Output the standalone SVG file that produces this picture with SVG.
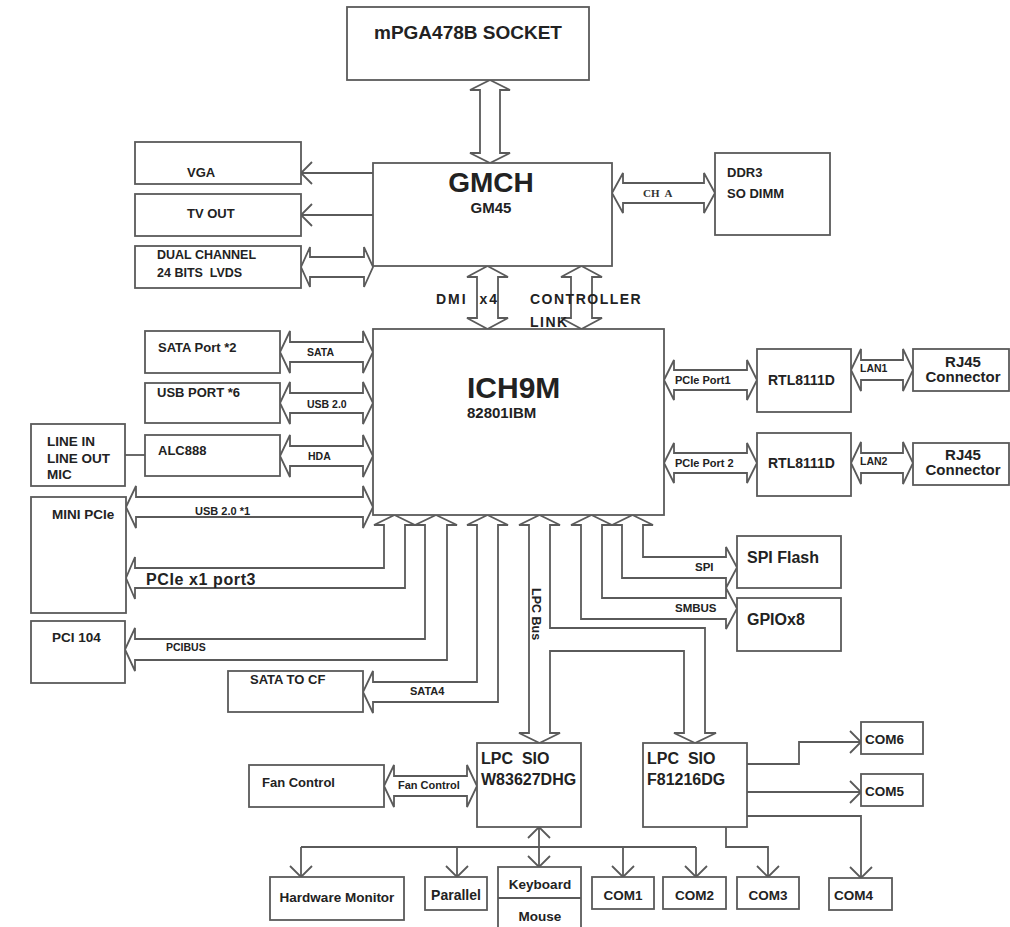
<svg xmlns="http://www.w3.org/2000/svg" width="1010" height="927" viewBox="0 0 1010 927">
<defs>
<style>
.b{fill:#fff;stroke:#5a5a5a;stroke-width:1.8}
.c{fill:none;stroke:#5a5a5a;stroke-width:1.8;stroke-linejoin:miter}
.t{font-family:"Liberation Sans",Arial,sans-serif;font-weight:bold;fill:#222}
.s{font-family:"Liberation Serif","Times New Roman",serif;font-weight:bold;fill:#333}
</style>
<marker id="v" viewBox="-12 -12 14 24" refX="0" refY="0" markerWidth="14" markerHeight="24" markerUnits="userSpaceOnUse" orient="auto-start-reverse">
<path d="M-11,-11 L0,0 L-11,11" fill="none" stroke="#5a5a5a" stroke-width="1.8"/>
</marker>
</defs>
<rect width="1010" height="927" fill="#fff"/>

<g id="connectors">
<polygon class="c" points="490,80 510,90 500,90 500,153 510,153 490,163 470,153 480,153 480,90 470,90"/>
<line class="c" x1="373" y1="173" x2="301" y2="173" marker-end="url(#v)"/>
<line class="c" x1="373" y1="215" x2="301" y2="215" marker-end="url(#v)"/>
<polygon class="c" points="301,267 310,247 310,257 364,257 364,247 373,267 364,287 364,277 310,277 310,287"/>
<polygon class="c" points="612,193 623,173 623,183 704,183 704,173 715,193 704,213 704,203 623,203 623,213"/>
<polygon class="c" points="487.5,266 508,277 498,277 498,318 508,318 487.5,329 467,318 477,318 477,277 467,277"/>
<polygon class="c" points="581.5,266 602,277 592,277 592,318 602,318 581.5,329 561,318 571,318 571,277 561,277"/>
<polygon class="c" points="280,352 290,331 290,342 363,342 363,331 373,352 363,373 363,362 290,362 290,373"/>
<polygon class="c" points="280,403 290,382 290,393 363,393 363,382 373,403 363,424 363,413 290,413 290,424"/>
<polygon class="c" points="280,456 290,435 290,446 363,446 363,435 373,456 363,477 363,466 290,466 290,477"/>
<line class="c" x1="125" y1="455" x2="145" y2="455"/>
<polygon class="c" points="126,507 136,486 136,497 363,497 363,486 373,507 363,528 363,517 136,517 136,528"/>
<polygon class="c" points="664,380 674,360 674,370 747,370 747,360 757,380 747,400 747,390 674,390 674,400"/>
<polygon class="c" points="664,463 674,443 674,453 747,453 747,443 757,463 747,483 747,473 674,473 674,483"/>
<polygon class="c" points="851,370 861,349 861,360 903,360 903,349 913,370 903,391 903,380 861,380 861,391"/>
<polygon class="c" points="851,463 861,442 861,453 903,453 903,442 913,463 903,484 903,473 861,473 861,484"/>
<polygon class="c" points="394.5,515 415,525 405,525 405,588 135,588 135,599 126,578 135,557 135,568 384,568 384,525 374,525"/>
<polygon class="c" points="436,515 457,525 447,525 447,660 135,660 135,671 125,649.5 135,628 135,639 425,639 425,525 415,525"/>
<polygon class="c" points="487.5,515 508,525 498,525 498,702 373,702 373,713 363,692 373,671 373,682 477,682 477,525 467,525"/>
<polygon class="c" points="539.5,515 560,525 550,525 550,628 705,628 705,733 716,733 695,743 674,733 684,733 684,651 550,651 550,733 560,733 539.5,743 519,733 529,733 529,525 519,525"/>
<polygon class="c" points="591.5,515 612,525 602,525 602,598 726,598 726,588 737,608.5 726,629 726,619 581,619 581,525 571,525"/>
<polygon class="c" points="632.5,515 653,525 643,525 643,557 726,557 726,547 737,567.5 726,588 726,578 622,578 622,525 612,525"/>
<polygon class="c" points="384,786 394,765 394,776 467,776 467,765 477,786 467,807 467,796 394,796 394,807"/>
<line class="c" x1="539" y1="827" x2="539" y2="867" marker-start="url(#v)" marker-end="url(#v)"/>
<line class="c" x1="301" y1="847" x2="696" y2="847"/>
<line class="c" x1="301" y1="847" x2="301" y2="877" marker-end="url(#v)"/>
<line class="c" x1="457" y1="847" x2="457" y2="877" marker-end="url(#v)"/>
<line class="c" x1="623" y1="847" x2="623" y2="877" marker-end="url(#v)"/>
<line class="c" x1="696" y1="847" x2="696" y2="877" marker-end="url(#v)"/>
<polyline class="c" points="747,764 799,764 799,742 861,742" marker-end="url(#v)"/>
<polyline class="c" points="747,792 861,792" marker-end="url(#v)"/>
<polyline class="c" points="747,816 861,816 861,878" marker-end="url(#v)"/>
<polyline class="c" points="726,827 726,847 768,847 768,877" marker-end="url(#v)"/>
</g>

<g id="labels">
<text class="s" x="643" y="197" font-size="11" xml:space="preserve">CH  A</text>
<text class="t" x="436" y="304" font-size="14" letter-spacing="2" xml:space="preserve">DMI  x4</text>
<text class="t" x="530" y="304" font-size="14" letter-spacing="1.5">CONTROLLER</text>
<text class="t" x="530" y="327" font-size="14" letter-spacing="1.5">LINK</text>
<text class="t" x="307" y="356" font-size="10.5">SATA</text>
<text class="t" x="307" y="407.5" font-size="10.5">USB 2.0</text>
<text class="t" x="308" y="459.5" font-size="10.5">HDA</text>
<text class="t" x="195" y="515" font-size="11">USB 2.0 *1</text>
<text class="t" x="146" y="585" font-size="16" letter-spacing="0.6">PCIe x1 port3</text>
<text class="t" x="166" y="651" font-size="10.5">PCIBUS</text>
<text class="t" x="410" y="695" font-size="11">SATA4</text>
<text class="t" font-size="12.5" transform="translate(532,588) rotate(90)">LPC Bus</text>
<text class="t" x="695" y="571" font-size="11.5">SPI</text>
<text class="t" x="675" y="612" font-size="11.5">SMBUS</text>
<text class="t" x="675" y="384" font-size="11">PCIe Port1</text>
<text class="t" x="675" y="467" font-size="11">PCIe Port 2</text>
<text class="t" x="860" y="372" font-size="10.5">LAN1</text>
<text class="t" x="860" y="465" font-size="10.5">LAN2</text>
<text class="t" x="398" y="789" font-size="11">Fan Control</text>
</g>

<g id="socket"><rect class="b" x="347" y="7" width="242" height="73"/><text class="t" x="468" y="39" font-size="19" text-anchor="middle">mPGA478B SOCKET</text></g>
<g id="gmch"><rect class="b" x="373" y="163" width="239" height="103"/><text class="t" x="491" y="192" font-size="28" text-anchor="middle">GMCH</text><text class="t" x="491" y="213" font-size="15" text-anchor="middle">GM45</text></g>
<g id="vga"><rect class="b" x="135" y="142" width="166" height="42"/><text class="t" x="187" y="177" font-size="13">VGA</text></g>
<g id="tvout"><rect class="b" x="135" y="194" width="166" height="42"/><text class="t" x="187" y="218" font-size="13">TV OUT</text></g>
<g id="lvds"><rect class="b" x="135" y="246" width="166" height="42"/><text class="t" x="157" y="259" font-size="12.5">DUAL CHANNEL</text><text class="t" x="157" y="276.5" font-size="12.5" xml:space="preserve">24 BITS  LVDS</text></g>
<g id="ddr3"><rect class="b" x="715" y="153" width="115" height="82"/><text class="t" x="727" y="177" font-size="13">DDR3</text><text class="t" x="727" y="198" font-size="13">SO DIMM</text></g>
<g id="ich9m"><rect class="b" x="373" y="329" width="291" height="186"/><text class="t" x="467" y="398" font-size="30">ICH9M</text><text class="t" x="467" y="418" font-size="15">82801IBM</text></g>
<g id="sata"><rect class="b" x="145" y="331" width="135" height="42"/><text class="t" x="158" y="351.5" font-size="13">SATA Port *2</text></g>
<g id="usb"><rect class="b" x="145" y="383" width="135" height="40"/><text class="t" x="157" y="396.5" font-size="13">USB PORT *6</text></g>
<g id="alc888"><rect class="b" x="145" y="435" width="135" height="41"/><text class="t" x="158" y="454.5" font-size="13">ALC888</text></g>
<g id="audio"><rect class="b" x="31" y="424" width="94" height="62"/><text class="t" x="47" y="446" font-size="13.5">LINE IN</text><text class="t" x="47" y="463" font-size="13.5">LINE OUT</text><text class="t" x="47" y="479" font-size="13.5">MIC</text></g>
<g id="minipcie"><rect class="b" x="31" y="497" width="95" height="116"/><text class="t" x="52" y="519" font-size="13.5">MINI PCIe</text></g>
<g id="pci104"><rect class="b" x="31" y="621" width="94" height="62"/><text class="t" x="52" y="642" font-size="13.5">PCI 104</text></g>
<g id="satacf"><rect class="b" x="228" y="671" width="135" height="41"/><text class="t" x="250" y="684" font-size="13">SATA TO CF</text></g>
<g id="spi"><rect class="b" x="737" y="536" width="104" height="52"/><text class="t" x="747" y="563" font-size="16">SPI Flash</text></g>
<g id="gpio"><rect class="b" x="737" y="598" width="104" height="53"/><text class="t" x="747" y="625" font-size="16">GPIOx8</text></g>
<g id="rtl1"><rect class="b" x="757" y="349" width="94" height="63"/><text class="t" x="768" y="385" font-size="14">RTL8111D</text></g>
<g id="rtl2"><rect class="b" x="757" y="433" width="94" height="63"/><text class="t" x="768" y="468" font-size="14">RTL8111D</text></g>
<g id="rj45a"><rect class="b" x="913" y="349" width="96" height="42"/><text class="t" x="963" y="366.5" font-size="15" text-anchor="middle">RJ45</text><text class="t" x="963" y="382" font-size="15" text-anchor="middle">Connector</text></g>
<g id="rj45b"><rect class="b" x="913" y="443" width="96" height="42"/><text class="t" x="963" y="459.5" font-size="15" text-anchor="middle">RJ45</text><text class="t" x="963" y="475" font-size="15" text-anchor="middle">Connector</text></g>
<g id="sio1"><rect class="b" x="477" y="743" width="104" height="84"/><text class="t" x="481" y="764" font-size="16" xml:space="preserve">LPC  SIO</text><text class="t" x="481" y="785" font-size="16">W83627DHG</text></g>
<g id="sio2"><rect class="b" x="643" y="743" width="104" height="84"/><text class="t" x="647" y="764" font-size="16" xml:space="preserve">LPC  SIO</text><text class="t" x="647" y="785" font-size="16">F81216DG</text></g>
<g id="fan"><rect class="b" x="249" y="765" width="135" height="42"/><text class="t" x="262" y="787" font-size="13">Fan Control</text></g>
<g id="hwmon"><rect class="b" x="270" y="877" width="134" height="43"/><text class="t" x="337" y="902" font-size="13.5" text-anchor="middle">Hardware Monitor</text></g>
<g id="parallel"><rect class="b" x="425" y="877" width="62" height="33"/><text class="t" x="456" y="900" font-size="14" text-anchor="middle">Parallel</text></g>
<g id="kbms"><rect class="b" x="498" y="867" width="83" height="70"/><line class="c" x1="498" y1="898" x2="581" y2="898"/><text class="t" x="540" y="889" font-size="13.5" text-anchor="middle">Keyboard</text><text class="t" x="540" y="921" font-size="13.5" text-anchor="middle">Mouse</text></g>
<g id="com1"><rect class="b" x="592" y="877" width="62" height="32"/><text class="t" x="623" y="900" font-size="13.5" text-anchor="middle">COM1</text></g>
<g id="com2"><rect class="b" x="663" y="877" width="63" height="32"/><text class="t" x="694.5" y="900" font-size="13.5" text-anchor="middle">COM2</text></g>
<g id="com3"><rect class="b" x="737" y="877" width="62" height="32"/><text class="t" x="768" y="900" font-size="13.5" text-anchor="middle">COM3</text></g>
<g id="com4"><rect class="b" x="829" y="878" width="63" height="32"/><text class="t" x="834" y="900" font-size="13.5">COM4</text></g>
<g id="com6"><rect class="b" x="861" y="722" width="62" height="32"/><text class="t" x="865" y="744" font-size="13.5">COM6</text></g>
<g id="com5"><rect class="b" x="861" y="774" width="62" height="32"/><text class="t" x="865" y="796" font-size="13.5">COM5</text></g>
</svg>
